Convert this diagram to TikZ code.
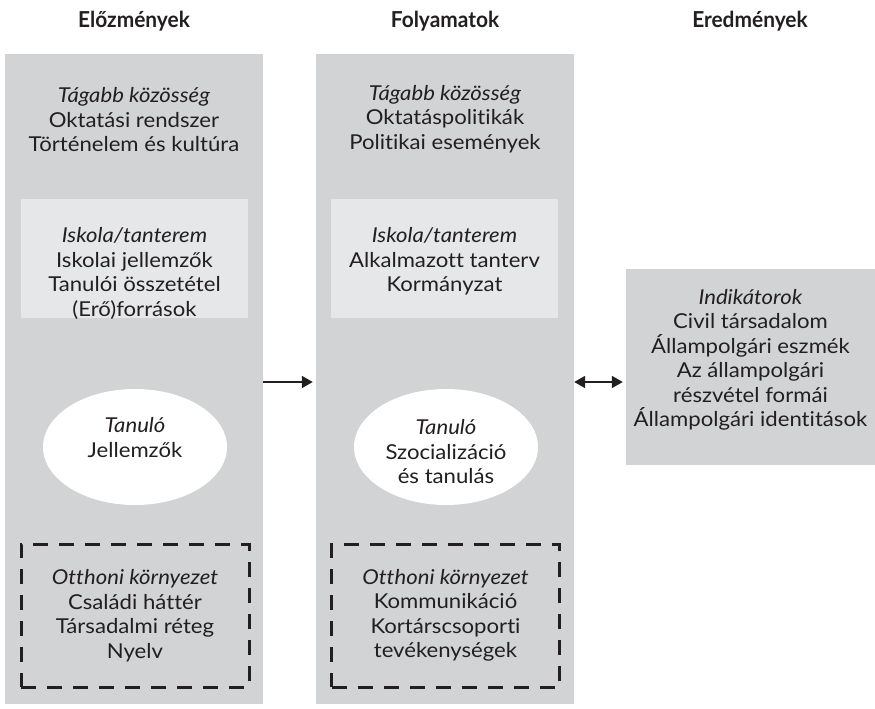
\documentclass[tikz,border=0pt]{standalone}
\usepackage{fontspec}
\setmainfont{Lato}[FakeStretch=1.08,Ligatures=NoCommon]
\newfontfamily\headfont[FakeStretch=0.95]{Lato}
\usepackage{tikz}
\usetikzlibrary{shapes.geometric,arrows.meta,positioning}

\definecolor{colgray}{RGB}{209,211,212}
\definecolor{boxgray}{RGB}{230,231,232}
\definecolor{ink}{RGB}{35,31,32}

\tikzset{
  column/.style={fill=colgray, minimum width=258pt, minimum height=650pt, inner sep=0pt},
  schoolbox/.style={fill=boxgray, minimum width=227pt, minimum height=119pt, inner sep=0pt},
  learner/.style={ellipse, fill=white, minimum width=184pt, minimum height=116pt, inner sep=0pt},
  homebox/.style={draw=ink, line width=3pt, dash pattern=on 15pt off 11pt,
    minimum width=228pt, minimum height=143pt, align=center, inner sep=0pt},
  txt/.style={align=center, text=ink, font=\fontsize{20.5}{24.5}\selectfont},
  head/.style={text=ink, font=\headfont\bfseries\fontsize{22}{24}\selectfont},
  arr/.style={line width=1.8pt, draw=ink, -{Triangle[length=11pt,width=12pt]}}
}

\begin{document}
\begin{tikzpicture}[x=1pt,y=-1pt]
  \useasboundingbox (0,0) rectangle (875,709);

  \node[head] (h1) at (134,21) {Előzmények};
  \node[head] (h2) at (445,21) {Folyamatok};
  \node[head] (h3) at (750,21) {Eredmények};

  \node[column] (pre) at (134,379) {};
  \node[column] (proc) at (445,379) {};
  \node[fill=colgray, minimum width=249pt, minimum height=196pt, inner sep=0pt] (ind) at (750.5,367) {};

  \node[txt] (wide1) at (134,120) {\textit{Tágabb közösség}\\Oktatási rendszer\\Történelem és kultúra};
  \node[txt] (wide2) at (445,119) {\textit{Tágabb közösség}\\Oktatáspolitikák\\Politikai események};

  \node[schoolbox] (sch1) at (134.5,258.5) {};
  \node[schoolbox] (sch2) at (444.5,258.5) {};
  \node[txt] (schtxt1) at (134.5,273.5) {\textit{Iskola/tanterem}\\Iskolai jellemzők\\Tanulói összetétel\\(Erő)források};
  \node[txt] (schtxt2) at (444.5,261.5) {\textit{Iskola/tanterem}\\Alkalmazott tanterv\\Kormányzat};

  \node[learner] (stu1) at (135,447) {};
  \node[learner] (stu2) at (446,447) {};
  \node[txt] (stutxt1) at (135,437.5) {\textit{Tanuló}\\Jellemzők};
  \node[txt] (stutxt2) at (446,452) {\textit{Tanuló}\\Szocializáció\\és tanulás};

  \node[homebox, txt] (home1) at (135,615.5) {\textit{Otthoni környezet}\\Családi háttér\\Társadalmi réteg\\Nyelv};
  \node[homebox, txt] (home2) at (445.5,615.5) {\textit{Otthoni környezet}\\Kommunikáció\\Kortárscsoporti\\tevékenységek};

  \node[txt] (indtxt) at (750.5,360) {\textit{Indikátorok}\\Civil társadalom\\Állampolgári eszmék\\Az állampolgári\\részvétel formái\\Állampolgári identitások};

  \coordinate (row) at (0,382);
  \draw[arr, shorten >=3pt] (pre.east |- row) -- (proc.west |- row);
  \draw[arr, {Triangle[length=11pt,width=12pt]}-{Triangle[length=11pt,width=12pt]}, shorten >=3pt] (proc.east |- row) -- (ind.west |- row);
\end{tikzpicture}
\end{document}
